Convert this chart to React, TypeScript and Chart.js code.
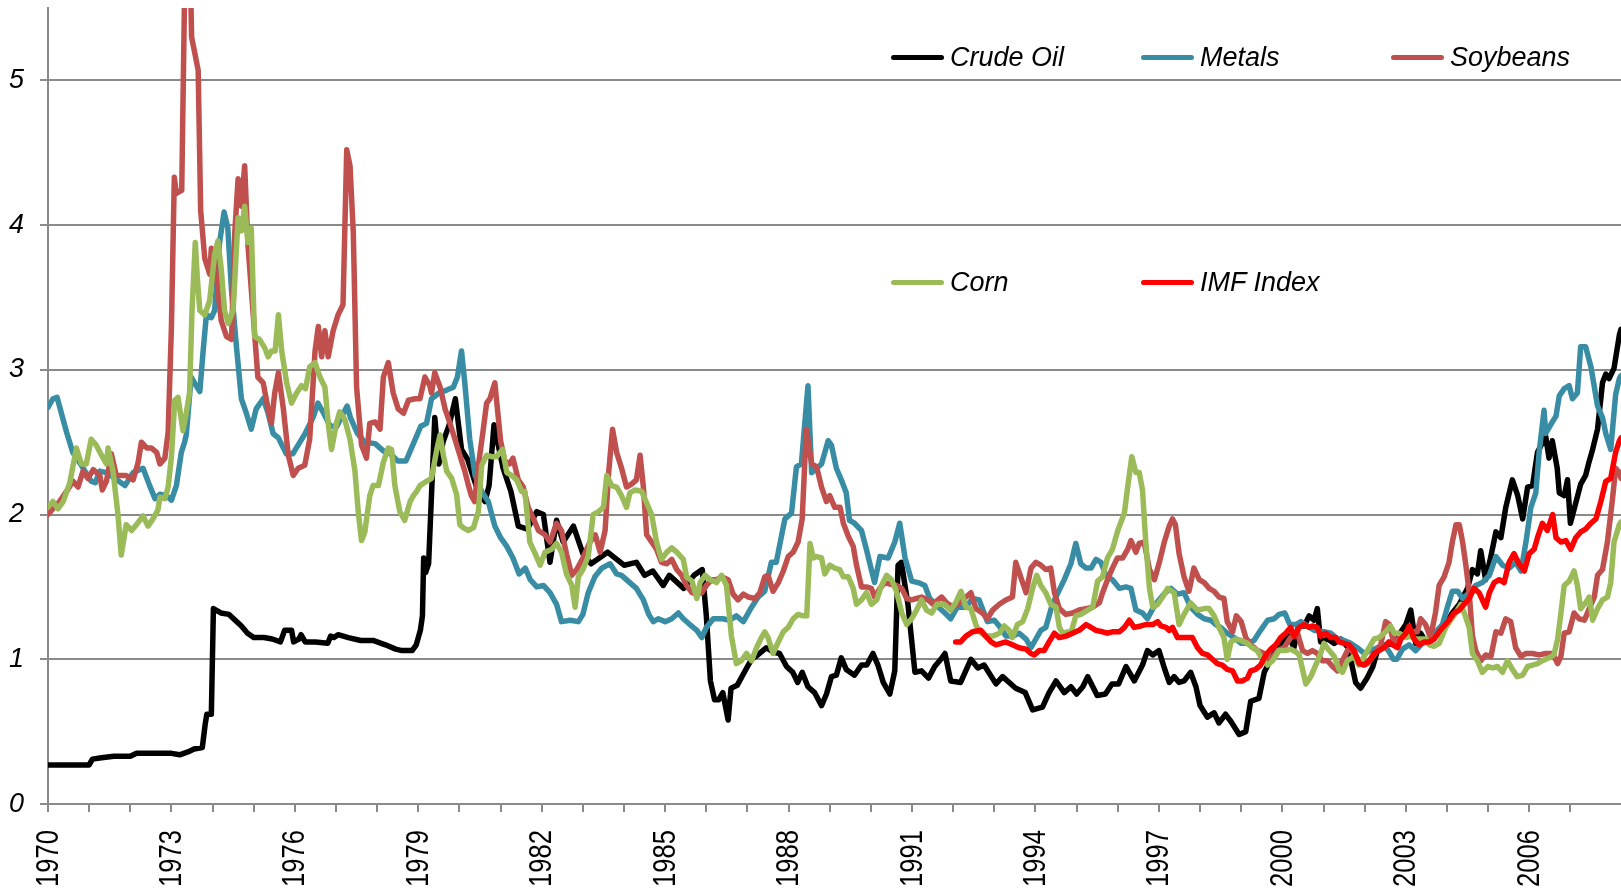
import React, { useEffect, useRef } from 'react';
import { Chart, registerables } from 'chart.js';

Chart.register(...registerables);

// ---- Data (decimal year, ratio) ----
const X_MIN = 1970;
const X_MAX = 2008.23;
const Y_MIN = 0;
const Y_MAX = 5.5;
const LABEL_EVERY = 3;

const seriesNames = ['Crude Oil', 'Metals', 'Soybeans', 'Corn', 'IMF Index'];
const seriesColors = ['#000000', '#388DA5', '#C0504D', '#9BBB59', '#FF0000'];

const crudeOil: number[][] = [
  [1970.0,0.27],[1970.5,0.27],[1971.0,0.27],[1971.08,0.31],[1971.3,0.32],[1971.6,0.33],[1972.0,0.33],[1972.15,0.35],[1972.6,0.35],[1973.0,0.35],[1973.2,0.34],[1973.4,0.36],[1973.55,0.38],[1973.75,0.39],[1973.82,0.55],[1973.86,0.62],[1973.97,0.62],[1974.02,1.35],[1974.2,1.32],[1974.4,1.31],[1974.55,1.27],[1974.7,1.23],[1974.85,1.18],[1975.0,1.15],[1975.25,1.15],[1975.45,1.14],[1975.65,1.12],[1975.75,1.2],[1975.92,1.2],[1975.97,1.12],[1976.1,1.14],[1976.15,1.17],[1976.25,1.12],[1976.5,1.12],[1976.8,1.11],[1976.87,1.16],[1976.95,1.15],[1977.05,1.17],[1977.3,1.15],[1977.6,1.13],[1977.9,1.13],[1978.2,1.10],[1978.45,1.07],[1978.6,1.06],[1978.85,1.06],[1978.95,1.1],[1979.05,1.2],[1979.1,1.3],[1979.13,1.70],[1979.18,1.6],[1979.25,1.66],[1979.4,2.67],[1979.5,2.35],[1979.6,2.5],[1979.75,2.62],[1979.9,2.80],[1980.05,2.45],[1980.2,2.38],[1980.45,2.16],[1980.62,2.09],[1980.72,2.2],[1980.84,2.62],[1981.06,2.32],[1981.25,2.16],[1981.43,1.92],[1981.65,1.90],[1981.88,2.02],[1982.04,2.0],[1982.2,1.67],[1982.36,1.96],[1982.52,1.81],[1982.77,1.92],[1983.0,1.73],[1983.2,1.66],[1983.4,1.70],[1983.6,1.74],[1984.0,1.65],[1984.3,1.67],[1984.5,1.58],[1984.7,1.61],[1984.95,1.51],[1985.1,1.58],[1985.45,1.49],[1985.7,1.58],[1985.9,1.62],[1986.0,1.3],[1986.1,0.85],[1986.2,0.72],[1986.3,0.72],[1986.4,0.77],[1986.53,0.58],[1986.6,0.80],[1986.75,0.82],[1987.0,0.95],[1987.1,1.0],[1987.25,1.03],[1987.46,1.08],[1987.62,1.05],[1987.78,1.04],[1987.95,0.95],[1988.1,0.91],[1988.22,0.84],[1988.33,0.91],[1988.47,0.81],[1988.63,0.77],[1988.8,0.68],[1988.92,0.76],[1989.04,0.88],[1989.16,0.89],[1989.28,1.01],[1989.4,0.93],[1989.6,0.89],[1989.77,0.96],[1989.9,0.96],[1990.05,1.04],[1990.17,0.96],[1990.3,0.84],[1990.46,0.76],[1990.58,0.92],[1990.66,1.65],[1990.74,1.67],[1990.9,1.38],[1991.07,0.91],[1991.23,0.92],[1991.4,0.87],[1991.55,0.95],[1991.7,1.0],[1991.8,1.04],[1991.94,0.85],[1992.18,0.84],[1992.43,1.0],[1992.6,0.94],[1992.75,0.96],[1993.04,0.83],[1993.2,0.88],[1993.52,0.80],[1993.75,0.77],[1993.93,0.65],[1994.17,0.67],[1994.33,0.77],[1994.5,0.85],[1994.7,0.77],[1994.86,0.81],[1995.0,0.76],[1995.15,0.81],[1995.27,0.88],[1995.5,0.75],[1995.7,0.76],[1995.86,0.83],[1996.02,0.83],[1996.2,0.95],[1996.4,0.85],[1996.6,0.96],[1996.72,1.06],[1996.85,1.03],[1997.0,1.06],[1997.12,0.95],[1997.25,0.84],[1997.37,0.88],[1997.49,0.84],[1997.61,0.85],[1997.77,0.91],[1997.9,0.81],[1998.0,0.68],[1998.18,0.60],[1998.34,0.63],[1998.46,0.56],[1998.62,0.62],[1998.75,0.57],[1998.95,0.48],[1999.11,0.50],[1999.23,0.71],[1999.43,0.73],[1999.56,0.91],[1999.72,1.0],[1999.92,1.10],[2000.16,1.16],[2000.28,1.08],[2000.4,1.24],[2000.53,1.23],[2000.65,1.30],[2000.77,1.27],[2000.85,1.35],[2000.93,1.12],[2001.1,1.14],[2001.26,1.11],[2001.42,1.14],[2001.6,1.08],[2001.78,0.84],[2001.9,0.80],[2002.06,0.87],[2002.2,0.95],[2002.33,1.08],[2002.5,1.10],[2002.75,1.11],[2002.88,1.19],[2003.0,1.24],[2003.12,1.34],[2003.24,1.11],[2003.36,1.18],[2003.49,1.12],[2003.65,1.15],[2003.81,1.19],[2003.97,1.24],[2004.13,1.32],[2004.3,1.38],[2004.5,1.49],[2004.62,1.62],[2004.74,1.59],[2004.82,1.75],[2004.94,1.55],[2005.06,1.70],[2005.19,1.88],[2005.31,1.84],[2005.43,2.05],[2005.59,2.24],[2005.72,2.13],[2005.84,1.97],[2005.96,2.19],[2006.08,2.20],[2006.2,2.43],[2006.4,2.54],[2006.48,2.39],[2006.56,2.51],[2006.68,2.32],[2006.73,2.15],[2006.85,2.13],[2006.93,2.24],[2007.0,1.94],[2007.13,2.08],[2007.25,2.21],[2007.37,2.27],[2007.45,2.36],[2007.54,2.45],[2007.66,2.59],[2007.78,2.91],[2007.86,2.97],[2007.94,2.94],[2008.06,3.01],[2008.19,3.24],[2008.23,3.28]
];

const metals: number[][] = [
  [1970.0,2.74],[1970.12,2.8],[1970.22,2.81],[1970.45,2.57],[1970.6,2.43],[1970.81,2.34],[1971.05,2.23],[1971.15,2.22],[1971.26,2.30],[1971.42,2.29],[1971.62,2.25],[1971.87,2.20],[1972.07,2.29],[1972.31,2.32],[1972.47,2.20],[1972.6,2.11],[1972.72,2.14],[1972.88,2.13],[1973.0,2.10],[1973.12,2.20],[1973.24,2.43],[1973.32,2.50],[1973.36,2.55],[1973.48,2.95],[1973.58,2.9],[1973.69,2.85],[1973.77,3.13],[1973.85,3.38],[1973.97,3.36],[1974.05,3.41],[1974.17,3.88],[1974.28,4.09],[1974.37,3.98],[1974.46,3.55],[1974.58,3.16],[1974.7,2.80],[1974.82,2.70],[1974.94,2.59],[1975.06,2.73],[1975.23,2.80],[1975.35,2.70],[1975.47,2.56],[1975.6,2.53],[1975.79,2.42],[1975.95,2.42],[1976.1,2.49],[1976.25,2.56],[1976.44,2.67],[1976.56,2.77],[1976.7,2.70],[1976.86,2.61],[1977.02,2.61],[1977.27,2.75],[1977.35,2.67],[1977.52,2.56],[1977.7,2.50],[1977.95,2.49],[1978.15,2.44],[1978.32,2.42],[1978.5,2.37],[1978.7,2.37],[1978.88,2.49],[1979.06,2.61],[1979.2,2.63],[1979.32,2.80],[1979.5,2.84],[1979.69,2.86],[1979.85,2.88],[1979.95,2.95],[1980.05,3.13],[1980.13,2.91],[1980.25,2.52],[1980.38,2.27],[1980.54,2.16],[1980.7,2.09],[1980.86,1.92],[1981.0,1.84],[1981.15,1.78],[1981.3,1.70],[1981.45,1.59],[1981.6,1.63],[1981.72,1.55],[1981.88,1.50],[1982.04,1.51],[1982.2,1.46],[1982.36,1.38],[1982.48,1.26],[1982.69,1.27],[1982.89,1.26],[1983.0,1.31],[1983.13,1.46],[1983.29,1.57],[1983.46,1.63],[1983.66,1.66],[1983.82,1.59],[1983.94,1.58],[1984.14,1.53],[1984.3,1.49],[1984.47,1.41],[1984.6,1.31],[1984.71,1.26],[1984.83,1.28],[1985.0,1.26],[1985.16,1.28],[1985.32,1.32],[1985.44,1.28],[1985.6,1.24],[1985.77,1.20],[1985.89,1.15],[1986.0,1.22],[1986.17,1.28],[1986.4,1.28],[1986.57,1.27],[1986.73,1.30],[1986.9,1.26],[1987.1,1.36],[1987.26,1.43],[1987.42,1.47],[1987.58,1.67],[1987.7,1.67],[1987.79,1.80],[1987.91,1.97],[1988.07,2.01],[1988.19,2.33],[1988.31,2.35],[1988.47,2.89],[1988.56,2.29],[1988.68,2.32],[1988.8,2.35],[1988.96,2.51],[1989.04,2.48],[1989.16,2.32],[1989.28,2.24],[1989.4,2.15],[1989.48,1.96],[1989.6,1.94],[1989.77,1.89],[1989.89,1.76],[1990.01,1.62],[1990.09,1.53],[1990.22,1.71],[1990.42,1.70],[1990.58,1.81],[1990.7,1.94],[1990.83,1.70],[1990.99,1.54],[1991.15,1.53],[1991.31,1.51],[1991.43,1.42],[1991.64,1.36],[1991.8,1.32],[1991.94,1.28],[1992.1,1.36],[1992.31,1.36],[1992.47,1.42],[1992.63,1.41],[1992.83,1.26],[1993.0,1.27],[1993.12,1.23],[1993.28,1.16],[1993.44,1.16],[1993.6,1.18],[1993.77,1.14],[1993.89,1.08],[1994.01,1.14],[1994.13,1.20],[1994.25,1.22],[1994.41,1.38],[1994.53,1.45],[1994.7,1.55],[1994.86,1.66],[1994.98,1.80],[1995.1,1.66],[1995.23,1.63],[1995.35,1.63],[1995.47,1.69],[1995.59,1.67],[1995.71,1.58],[1995.87,1.55],[1996.04,1.49],[1996.2,1.50],[1996.32,1.49],[1996.44,1.34],[1996.6,1.32],[1996.72,1.28],[1996.85,1.35],[1997.0,1.41],[1997.15,1.46],[1997.29,1.49],[1997.45,1.45],[1997.61,1.46],[1997.77,1.36],[1997.94,1.31],[1998.1,1.28],[1998.26,1.27],[1998.38,1.24],[1998.5,1.22],[1998.66,1.18],[1998.83,1.15],[1999.0,1.11],[1999.15,1.11],[1999.31,1.13],[1999.47,1.20],[1999.64,1.27],[1999.8,1.28],[1999.92,1.31],[2000.06,1.32],[2000.18,1.24],[2000.33,1.24],[2000.45,1.26],[2000.61,1.23],[2000.77,1.20],[2001.01,1.19],[2001.18,1.18],[2001.34,1.14],[2001.5,1.13],[2001.66,1.11],[2001.82,1.08],[2001.99,1.04],[2002.15,1.06],[2002.31,1.08],[2002.47,1.10],[2002.6,1.05],[2002.7,1.0],[2002.78,1.0],[2002.92,1.07],[2003.08,1.10],[2003.24,1.06],[2003.4,1.11],[2003.57,1.13],[2003.73,1.19],[2003.89,1.24],[2004.01,1.36],[2004.13,1.47],[2004.26,1.47],[2004.38,1.42],[2004.54,1.46],[2004.7,1.51],[2004.86,1.53],[2005.03,1.58],[2005.19,1.71],[2005.35,1.65],[2005.51,1.63],[2005.67,1.67],[2005.8,1.61],[2005.92,1.81],[2006.04,2.05],[2006.16,2.15],[2006.24,2.43],[2006.36,2.72],[2006.4,2.56],[2006.52,2.62],[2006.65,2.68],[2006.73,2.82],[2006.85,2.87],[2006.97,2.89],[2007.05,2.80],[2007.17,2.84],[2007.25,3.16],[2007.37,3.16],[2007.5,3.02],[2007.66,2.75],[2007.78,2.67],[2007.86,2.56],[2007.98,2.45],[2008.1,2.83],[2008.19,2.94],[2008.23,2.96]
];

const soybeans: number[][] = [
  [1970.0,2.0],[1970.12,2.04],[1970.28,2.09],[1970.45,2.16],[1970.61,2.23],[1970.73,2.19],[1970.85,2.30],[1970.97,2.25],[1971.1,2.31],[1971.26,2.27],[1971.32,2.17],[1971.42,2.23],[1971.54,2.42],[1971.66,2.27],[1971.9,2.27],[1972.07,2.24],[1972.19,2.36],[1972.27,2.50],[1972.4,2.46],[1972.51,2.46],[1972.64,2.43],[1972.72,2.35],[1972.84,2.39],[1972.92,2.57],[1973.0,3.3],[1973.07,4.33],[1973.12,4.22],[1973.25,4.24],[1973.36,6.4],[1973.43,6.2],[1973.49,5.3],[1973.65,5.07],[1973.71,4.1],[1973.81,3.77],[1973.93,3.66],[1973.97,3.84],[1974.05,3.77],[1974.13,3.55],[1974.21,3.34],[1974.34,3.23],[1974.46,3.21],[1974.54,3.95],[1974.62,4.32],[1974.7,4.13],[1974.78,4.41],[1974.86,3.86],[1974.98,3.41],[1975.1,2.95],[1975.23,2.91],[1975.35,2.73],[1975.43,2.63],[1975.51,2.84],[1975.6,2.98],[1975.72,2.73],[1975.84,2.41],[1975.96,2.27],[1976.08,2.32],[1976.24,2.34],[1976.36,2.52],[1976.49,3.13],[1976.57,3.30],[1976.65,3.09],[1976.73,3.27],[1976.81,3.09],[1976.93,3.27],[1977.05,3.38],[1977.17,3.45],[1977.26,4.52],[1977.34,4.41],[1977.42,3.95],[1977.5,2.88],[1977.62,2.48],[1977.74,2.39],[1977.82,2.63],[1977.95,2.64],[1978.07,2.59],[1978.15,2.95],[1978.27,3.05],[1978.39,2.84],[1978.51,2.73],[1978.64,2.70],[1978.76,2.79],[1978.92,2.80],[1979.04,2.80],[1979.16,2.95],[1979.28,2.89],[1979.32,2.84],[1979.4,2.98],[1979.53,2.88],[1979.65,2.73],[1979.77,2.63],[1979.89,2.52],[1980.01,2.41],[1980.13,2.30],[1980.21,2.21],[1980.29,2.13],[1980.37,2.09],[1980.46,2.34],[1980.58,2.59],[1980.66,2.77],[1980.74,2.80],[1980.86,2.91],[1981.0,2.51],[1981.1,2.37],[1981.22,2.35],[1981.3,2.39],[1981.43,2.24],[1981.55,2.19],[1981.67,2.05],[1981.8,1.97],[1981.92,1.89],[1982.08,1.86],[1982.2,1.81],[1982.36,1.94],[1982.48,1.89],[1982.6,1.73],[1982.73,1.58],[1982.85,1.62],[1983.0,1.70],[1983.17,1.81],[1983.3,1.86],[1983.42,1.74],[1983.54,1.89],[1983.62,2.27],[1983.72,2.59],[1983.82,2.43],[1983.94,2.32],[1984.06,2.19],[1984.18,2.21],[1984.3,2.24],[1984.39,2.41],[1984.47,2.19],[1984.55,1.86],[1984.67,1.81],[1984.79,1.76],[1984.91,1.67],[1985.04,1.66],[1985.16,1.69],[1985.28,1.62],[1985.4,1.58],[1985.52,1.51],[1985.65,1.46],[1985.77,1.45],[1985.89,1.46],[1986.0,1.51],[1986.13,1.55],[1986.25,1.55],[1986.37,1.57],[1986.53,1.55],[1986.65,1.45],[1986.77,1.41],[1986.9,1.45],[1987.02,1.43],[1987.18,1.42],[1987.3,1.46],[1987.42,1.57],[1987.5,1.58],[1987.62,1.47],[1987.75,1.53],[1987.87,1.61],[1987.99,1.71],[1988.11,1.74],[1988.23,1.81],[1988.33,1.97],[1988.43,2.59],[1988.56,2.35],[1988.68,2.33],[1988.8,2.19],[1988.92,2.09],[1989.0,2.13],[1989.12,2.05],[1989.25,2.05],[1989.33,1.94],[1989.45,1.85],[1989.57,1.78],[1989.65,1.65],[1989.77,1.50],[1989.89,1.50],[1990.01,1.49],[1990.09,1.43],[1990.22,1.49],[1990.34,1.53],[1990.46,1.52],[1990.62,1.51],[1990.75,1.49],[1990.87,1.42],[1990.99,1.41],[1991.11,1.42],[1991.23,1.43],[1991.39,1.41],[1991.51,1.38],[1991.63,1.41],[1991.72,1.43],[1991.84,1.39],[1992.0,1.36],[1992.15,1.39],[1992.27,1.42],[1992.43,1.46],[1992.55,1.35],[1992.71,1.32],[1992.83,1.28],[1992.96,1.34],[1993.12,1.38],[1993.28,1.41],[1993.44,1.43],[1993.52,1.67],[1993.64,1.57],[1993.77,1.46],[1993.89,1.63],[1994.01,1.67],[1994.13,1.65],[1994.25,1.62],[1994.37,1.63],[1994.46,1.46],[1994.58,1.35],[1994.74,1.31],[1994.9,1.32],[1995.06,1.34],[1995.23,1.35],[1995.39,1.36],[1995.55,1.39],[1995.63,1.46],[1995.75,1.55],[1995.87,1.63],[1995.99,1.70],[1996.12,1.70],[1996.24,1.76],[1996.32,1.82],[1996.44,1.74],[1996.52,1.80],[1996.64,1.81],[1996.77,1.62],[1996.89,1.55],[1997.01,1.67],[1997.13,1.81],[1997.25,1.92],[1997.33,1.97],[1997.4,1.93],[1997.49,1.73],[1997.61,1.57],[1997.73,1.47],[1997.85,1.63],[1997.98,1.55],[1998.1,1.53],[1998.22,1.49],[1998.34,1.47],[1998.46,1.43],[1998.58,1.42],[1998.66,1.26],[1998.79,1.19],[1998.88,1.30],[1999.0,1.26],[1999.11,1.15],[1999.23,1.10],[1999.4,1.06],[1999.56,1.04],[1999.72,1.0],[1999.88,1.06],[2000.04,1.08],[2000.2,1.15],[2000.37,1.18],[2000.49,1.06],[2000.61,1.04],[2000.73,1.06],[2000.85,1.04],[2000.97,0.99],[2001.1,0.99],[2001.22,0.95],[2001.34,0.92],[2001.46,0.99],[2001.58,1.06],[2001.66,1.08],[2001.78,1.01],[2001.9,0.99],[2002.07,0.97],[2002.23,1.03],[2002.39,1.10],[2002.51,1.26],[2002.6,1.24],[2002.72,1.10],[2002.84,1.15],[2003.0,1.18],[2003.16,1.19],[2003.28,1.19],[2003.36,1.28],[2003.48,1.24],[2003.6,1.15],[2003.72,1.32],[2003.81,1.51],[2003.93,1.57],[2004.05,1.67],[2004.13,1.81],[2004.22,1.93],[2004.3,1.93],[2004.38,1.81],[2004.46,1.65],[2004.54,1.46],[2004.62,1.16],[2004.7,1.06],[2004.82,0.99],[2004.94,1.03],[2005.07,1.02],[2005.19,1.19],[2005.31,1.18],[2005.43,1.28],[2005.55,1.26],[2005.67,1.08],[2005.8,1.02],[2005.92,1.04],[2006.08,1.04],[2006.24,1.03],[2006.4,1.04],[2006.57,1.04],[2006.69,0.97],[2006.77,1.02],[2006.85,1.18],[2006.97,1.19],[2007.09,1.32],[2007.21,1.28],[2007.34,1.27],[2007.46,1.35],[2007.58,1.43],[2007.66,1.58],[2007.78,1.62],[2007.9,1.81],[2008.02,2.10],[2008.1,2.32],[2008.19,2.29],[2008.23,2.25]
];

const corn: number[][] = [
  [1970.0,2.05],[1970.12,2.09],[1970.24,2.04],[1970.37,2.09],[1970.53,2.22],[1970.69,2.46],[1970.81,2.35],[1970.93,2.35],[1971.05,2.52],[1971.17,2.48],[1971.3,2.41],[1971.42,2.35],[1971.46,2.46],[1971.58,2.30],[1971.7,2.0],[1971.78,1.72],[1971.9,1.93],[1972.03,1.89],[1972.15,1.93],[1972.31,1.99],[1972.43,1.92],[1972.55,1.97],[1972.67,2.03],[1972.72,2.12],[1972.84,2.11],[1972.92,2.19],[1973.0,2.40],[1973.08,2.79],[1973.16,2.81],[1973.28,2.58],[1973.36,2.70],[1973.44,2.84],[1973.5,3.41],[1973.58,3.88],[1973.63,3.63],[1973.69,3.41],[1973.81,3.38],[1973.93,3.48],[1974.05,3.80],[1974.13,3.89],[1974.21,3.70],[1974.29,3.41],[1974.38,3.32],[1974.5,3.41],[1974.62,4.05],[1974.7,3.96],[1974.78,4.13],[1974.86,3.88],[1974.94,3.98],[1975.02,3.23],[1975.14,3.21],[1975.27,3.15],[1975.35,3.09],[1975.43,3.13],[1975.52,3.13],[1975.6,3.38],[1975.68,3.13],[1975.8,2.91],[1975.92,2.77],[1976.04,2.84],[1976.16,2.89],[1976.26,2.87],[1976.36,3.02],[1976.49,3.05],[1976.61,2.95],[1976.73,2.88],[1976.81,2.63],[1976.89,2.45],[1977.01,2.63],[1977.09,2.71],[1977.21,2.66],[1977.34,2.52],[1977.46,2.30],[1977.54,2.02],[1977.62,1.82],[1977.7,1.88],[1977.82,2.13],[1977.9,2.20],[1978.03,2.20],[1978.15,2.36],[1978.27,2.46],[1978.35,2.45],[1978.43,2.20],[1978.55,2.02],[1978.67,1.96],[1978.8,2.09],[1978.88,2.13],[1978.96,2.16],[1979.04,2.20],[1979.2,2.23],[1979.32,2.25],[1979.45,2.45],[1979.53,2.55],[1979.61,2.41],[1979.69,2.30],[1979.81,2.25],[1979.93,2.14],[1980.01,1.93],[1980.09,1.91],[1980.21,1.89],[1980.34,1.91],[1980.46,2.02],[1980.54,2.34],[1980.66,2.41],[1980.78,2.40],[1980.9,2.40],[1981.05,2.45],[1981.15,2.29],[1981.27,2.27],[1981.39,2.24],[1981.51,2.16],[1981.59,2.16],[1981.71,1.81],[1981.84,1.73],[1981.96,1.65],[1982.08,1.74],[1982.24,1.76],[1982.36,1.80],[1982.48,1.74],[1982.6,1.59],[1982.73,1.51],[1982.81,1.36],[1982.89,1.57],[1983.0,1.62],[1983.13,1.71],[1983.25,2.0],[1983.38,2.02],[1983.5,2.05],[1983.58,2.27],[1983.7,2.20],[1983.82,2.19],[1983.94,2.13],[1984.06,2.05],[1984.14,2.15],[1984.27,2.17],[1984.43,2.16],[1984.55,2.08],[1984.67,2.0],[1984.79,1.81],[1984.91,1.69],[1985.04,1.74],[1985.16,1.77],[1985.28,1.74],[1985.44,1.69],[1985.52,1.57],[1985.65,1.54],[1985.77,1.42],[1985.85,1.53],[1985.97,1.58],[1986.09,1.55],[1986.25,1.53],[1986.37,1.58],[1986.49,1.51],[1986.61,1.16],[1986.73,0.97],[1986.85,0.99],[1986.98,1.04],[1987.1,0.99],[1987.22,1.08],[1987.34,1.15],[1987.42,1.19],[1987.5,1.15],[1987.62,1.04],[1987.75,1.12],[1987.87,1.19],[1987.99,1.22],[1988.11,1.28],[1988.23,1.31],[1988.35,1.30],[1988.44,1.30],[1988.52,1.80],[1988.6,1.70],[1988.68,1.71],[1988.8,1.70],[1988.88,1.59],[1989.0,1.65],[1989.12,1.63],[1989.24,1.62],[1989.33,1.57],[1989.45,1.57],[1989.57,1.49],[1989.65,1.38],[1989.77,1.41],[1989.89,1.46],[1990.01,1.38],[1990.14,1.41],[1990.26,1.51],[1990.38,1.58],[1990.5,1.55],[1990.62,1.47],[1990.75,1.32],[1990.87,1.24],[1990.99,1.28],[1991.11,1.34],[1991.23,1.41],[1991.35,1.34],[1991.48,1.32],[1991.6,1.38],[1991.78,1.38],[1991.94,1.34],[1992.06,1.39],[1992.19,1.47],[1992.31,1.36],[1992.43,1.35],[1992.55,1.24],[1992.63,1.19],[1992.8,1.16],[1992.96,1.16],[1993.12,1.18],[1993.24,1.23],[1993.36,1.20],[1993.44,1.15],[1993.56,1.24],[1993.69,1.26],[1993.81,1.35],[1993.93,1.49],[1994.03,1.58],[1994.13,1.51],[1994.25,1.46],[1994.37,1.38],[1994.5,1.36],[1994.58,1.22],[1994.66,1.18],[1994.78,1.19],[1994.86,1.18],[1994.98,1.30],[1995.1,1.31],[1995.27,1.34],[1995.39,1.36],[1995.51,1.54],[1995.63,1.57],[1995.75,1.70],[1995.87,1.76],[1996.0,1.89],[1996.16,2.01],[1996.24,2.19],[1996.34,2.40],[1996.44,2.29],[1996.52,2.29],[1996.6,2.17],[1996.68,1.81],[1996.77,1.49],[1996.85,1.36],[1996.97,1.38],[1997.09,1.43],[1997.21,1.49],[1997.37,1.46],[1997.49,1.24],[1997.61,1.31],[1997.77,1.39],[1997.94,1.34],[1998.1,1.35],[1998.22,1.35],[1998.34,1.30],[1998.46,1.22],[1998.58,1.15],[1998.66,1.0],[1998.75,1.12],[1998.87,1.14],[1999.0,1.13],[1999.15,1.11],[1999.27,1.08],[1999.39,1.06],[1999.47,1.02],[1999.64,0.96],[1999.76,0.99],[1999.92,1.06],[2000.08,1.06],[2000.2,1.07],[2000.33,1.05],[2000.41,1.03],[2000.57,0.83],[2000.69,0.88],[2000.81,0.96],[2000.93,1.04],[2001.01,1.11],[2001.14,1.06],[2001.26,1.02],[2001.38,0.93],[2001.46,0.91],[2001.58,0.99],[2001.74,1.02],[2001.86,0.96],[2001.99,1.02],[2002.11,1.08],[2002.23,1.14],[2002.35,1.15],[2002.51,1.19],[2002.63,1.23],[2002.72,1.18],[2002.84,1.18],[2003.0,1.15],[2003.12,1.16],[2003.24,1.14],[2003.36,1.14],[2003.49,1.14],[2003.57,1.10],[2003.69,1.09],[2003.81,1.11],[2003.97,1.22],[2004.09,1.27],[2004.21,1.32],[2004.34,1.38],[2004.42,1.32],[2004.54,1.22],[2004.62,1.04],[2004.74,0.99],[2004.86,0.91],[2004.99,0.95],[2005.11,0.94],[2005.23,0.95],[2005.35,0.91],[2005.47,0.99],[2005.59,0.93],[2005.71,0.88],[2005.84,0.89],[2005.96,0.95],[2006.08,0.96],[2006.2,0.97],[2006.32,0.99],[2006.48,1.01],[2006.6,1.03],[2006.69,1.14],[2006.77,1.32],[2006.85,1.51],[2006.97,1.54],[2007.09,1.61],[2007.17,1.51],[2007.25,1.35],[2007.37,1.39],[2007.46,1.43],[2007.54,1.27],[2007.66,1.35],[2007.78,1.41],[2007.9,1.43],[2007.98,1.53],[2008.06,1.81],[2008.19,1.93],[2008.23,1.95]
];

const imfIndex: number[][] = [
  [1992.06,1.12],[1992.18,1.12],[1992.31,1.16],[1992.47,1.19],[1992.67,1.20],[1992.79,1.16],[1992.92,1.12],[1993.04,1.10],[1993.16,1.11],[1993.28,1.12],[1993.44,1.10],[1993.6,1.08],[1993.77,1.07],[1993.89,1.04],[1993.97,1.03],[1994.09,1.06],[1994.21,1.06],[1994.33,1.12],[1994.46,1.18],[1994.58,1.15],[1994.74,1.16],[1994.9,1.18],[1995.06,1.20],[1995.23,1.24],[1995.35,1.22],[1995.47,1.20],[1995.63,1.19],[1995.75,1.18],[1995.87,1.19],[1996.04,1.19],[1996.16,1.22],[1996.28,1.27],[1996.4,1.22],[1996.56,1.23],[1996.68,1.24],[1996.85,1.24],[1996.97,1.26],[1997.05,1.23],[1997.17,1.22],[1997.25,1.20],[1997.33,1.22],[1997.45,1.15],[1997.57,1.15],[1997.69,1.15],[1997.81,1.15],[1997.94,1.08],[1998.06,1.04],[1998.18,1.03],[1998.3,1.0],[1998.42,0.97],[1998.54,0.96],[1998.66,0.93],[1998.79,0.92],[1998.91,0.85],[1999.03,0.85],[1999.15,0.87],[1999.23,0.92],[1999.35,0.93],[1999.47,0.96],[1999.6,1.03],[1999.72,1.07],[1999.84,1.10],[1999.96,1.15],[2000.08,1.18],[2000.2,1.22],[2000.29,1.16],[2000.41,1.22],[2000.53,1.24],[2000.65,1.22],[2000.73,1.23],[2000.85,1.22],[2000.93,1.16],[2001.05,1.18],[2001.18,1.15],[2001.3,1.15],[2001.38,1.12],[2001.5,1.11],[2001.62,1.10],[2001.74,1.06],[2001.87,0.97],[2001.99,0.96],[2002.11,0.99],[2002.23,1.04],[2002.35,1.06],[2002.47,1.08],[2002.59,1.12],[2002.68,1.10],[2002.8,1.08],[2002.88,1.14],[2003.0,1.18],[2003.08,1.23],[2003.2,1.14],[2003.32,1.10],[2003.45,1.12],[2003.57,1.12],[2003.69,1.14],[2003.81,1.19],[2003.93,1.23],[2004.05,1.27],[2004.17,1.32],[2004.3,1.34],[2004.42,1.38],[2004.54,1.42],[2004.66,1.49],[2004.78,1.46],[2004.94,1.36],[2005.03,1.46],[2005.15,1.53],[2005.27,1.55],[2005.39,1.53],[2005.51,1.67],[2005.63,1.73],[2005.75,1.66],[2005.88,1.61],[2006.0,1.73],[2006.12,1.76],[2006.2,1.84],[2006.32,1.94],[2006.44,1.89],[2006.57,2.0],[2006.65,1.84],[2006.77,1.81],[2006.89,1.82],[2007.01,1.76],[2007.13,1.84],[2007.25,1.88],[2007.37,1.90],[2007.5,1.94],[2007.62,1.97],[2007.74,2.09],[2007.86,2.23],[2007.98,2.25],[2008.1,2.43],[2008.19,2.51],[2008.23,2.53]
];

const seriesData = [crudeOil, metals, soybeans, corn, imfIndex];
// drawing priority: later series on top (Chart.js draws lowest "order" last)
const seriesOrder = [4, 3, 2, 1, 0];

// legend layout: [left of swatch, center y]
const legendPos = [[891, 57], [1141, 57], [1391, 57], [891, 282], [1141, 282]];

const AXIS_GRAY = '#8a8a8a';
const X_TICK_LENGTH = 8;
const X_LABEL_PAD = 18;
const X_LABEL_FONT = "31px 'Liberation Sans', Arial, sans-serif";
const X_LABEL_MAX_WIDTH = 57;

// Draws the x tick labels (rotated, horizontally condensed like a narrow font)
const narrowXLabels = {
  id: 'narrowXLabels',
  afterDraw(chart: any) {
    const scale = chart.scales.x;
    const ctx = chart.ctx;
    ctx.save();
    ctx.fillStyle = '#000';
    ctx.font = X_LABEL_FONT;
    ctx.textAlign = 'right';
    ctx.textBaseline = 'middle';
    for (const t of scale.ticks) {
      const v = Math.round(t.value);
      if ((v - X_MIN) % LABEL_EVERY !== 0) continue;
      const px = scale.getPixelForValue(v);
      ctx.save();
      ctx.translate(px + 1, scale.top + X_TICK_LENGTH + X_LABEL_PAD);
      ctx.rotate(-Math.PI / 2);
      ctx.fillText(String(v), 0, 0, X_LABEL_MAX_WIDTH);
      ctx.restore();
    }
    ctx.restore();
  },
};

export default function App() {
  const canvasRef = useRef<HTMLCanvasElement>(null);

  useEffect(() => {
    document.body.style.margin = '0';
    const canvas = canvasRef.current;
    if (!canvas) return;

    const isInt = (v: number) => Math.abs(v - Math.round(v)) < 1e-6;

    const chart = new Chart(canvas, {
      type: 'line',
      data: {
        datasets: seriesNames.map((name, i) => ({
          label: name,
          data: seriesData[i].map(([x, y]) => ({ x, y })),
          borderColor: seriesColors[i],
          backgroundColor: seriesColors[i],
          borderWidth: 5.5,
          pointRadius: 0,
          tension: 0,
          fill: false,
          clip: 0,
          order: seriesOrder[i],
          borderJoinStyle: 'round' as const,
          borderCapStyle: 'round' as const,
        })),
      },
      options: {
        animation: false,
        responsive: false,
        maintainAspectRatio: false,
        layout: { padding: { top: 8, right: 0, left: 0, bottom: 0 } },
        plugins: {
          legend: { display: false },
          tooltip: { enabled: false },
        },
        scales: {
          x: {
            type: 'linear',
            min: X_MIN,
            max: X_MAX,
            afterBuildTicks: (scale: any) => {
              scale.ticks = scale.ticks.filter((t: any) => isInt(t.value));
            },
            afterFit: (scale: any) => {
              scale.height = 87;
              scale.paddingLeft = 0;
              scale.paddingRight = 0;
            },
            ticks: {
              stepSize: 1,
              autoSkip: false,
              display: false,
            },
            grid: {
              display: true,
              drawOnChartArea: false,
              drawTicks: true,
              tickLength: X_TICK_LENGTH,
              color: AXIS_GRAY,
              lineWidth: 2,
            },
            border: { display: true, color: AXIS_GRAY, width: 2 },
          },
          y: {
            type: 'linear',
            min: Y_MIN,
            max: Y_MAX,
            afterBuildTicks: (scale: any) => {
              scale.ticks = scale.ticks.filter((t: any) => isInt(t.value));
            },
            afterFit: (scale: any) => {
              scale.width = 48;
              scale.paddingTop = 0;
              scale.paddingBottom = 0;
            },
            ticks: {
              stepSize: 1,
              padding: 16,
              color: '#000',
              font: { family: "'Liberation Sans', Arial, sans-serif", size: 27, style: 'italic' },
            },
            grid: {
              color: AXIS_GRAY,
              lineWidth: 2,
              drawTicks: true,
              tickLength: 8,
            },
            border: { display: true, color: AXIS_GRAY, width: 2 },
          },
        },
      },
      plugins: [narrowXLabels],
    } as any);

    return () => chart.destroy();
  }, []);

  return (
    <div style={{ position: 'relative', width: 1621, height: 891, background: '#fff' }}>
      <canvas ref={canvasRef} width={1621} height={891} style={{ display: 'block', width: 1621, height: 891 }} />
      {seriesNames.map((name, i) => (
        <div key={name} style={{ position: 'absolute', left: legendPos[i][0], top: legendPos[i][1] - 16, height: 32, display: 'flex', alignItems: 'center', pointerEvents: 'none' }}>
          <div style={{ width: 53, height: 5, borderRadius: 2.5, background: seriesColors[i] }} />
          <span style={{ marginLeft: 6, fontFamily: "'Liberation Sans', Arial, sans-serif", fontStyle: 'italic', fontSize: 27, color: '#000', lineHeight: '32px', whiteSpace: 'nowrap' }}>{name}</span>
        </div>
      ))}
    </div>
  );
}
